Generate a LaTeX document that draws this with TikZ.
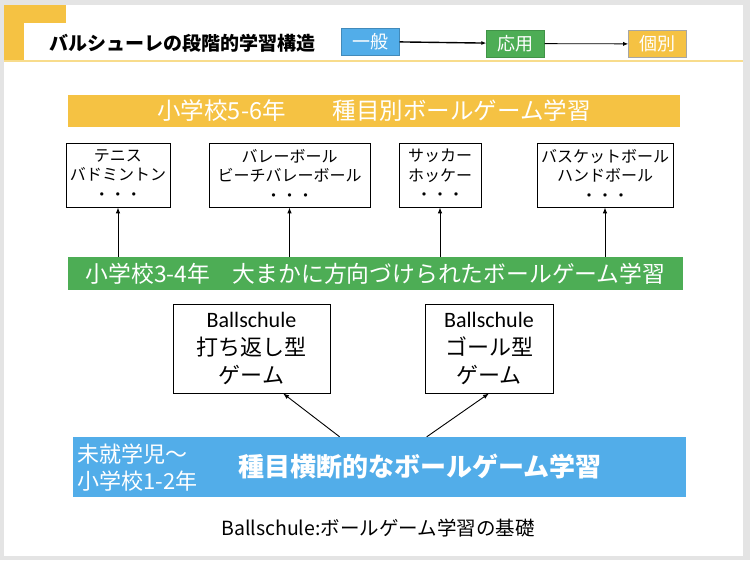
\documentclass[tikz,border=0pt]{standalone}
\usepackage{fontspec}
\setmainfont{Noto Sans CJK JP}
\newfontfamily\latinfont{Carlito}
\usetikzlibrary{arrows.meta, positioning, calc}

\definecolor{baryellow}{HTML}{F5C243}
\definecolor{bargreen}{HTML}{4DAD55}
\definecolor{barblue}{HTML}{52ADE9}
\definecolor{pagegray}{HTML}{E4E4E4}
\definecolor{rulecolor}{HTML}{F8DC8C}

\tikzset{
  levelbar/.style={rectangle, inner sep=0pt, text=white},
  tagbox/.style={rectangle, inner sep=0pt, minimum width=58pt, minimum height=27pt,
    text=white, font=\fontsize{18}{20}\selectfont},
  sportbox/.style={draw, line width=0.8pt, rectangle, inner sep=0pt, minimum height=64pt,
    align=center, font=\fontsize{16}{19.5}\selectfont},
  ballbox/.style={draw, line width=0.8pt, rectangle, inner sep=0pt, minimum height=89pt,
    align=center, font=\fontsize{22}{28}\selectfont},
  arr/.style={-{Latex[length=6pt,width=4.5pt]}, line width=0.9pt}
}

\begin{document}
\begin{tikzpicture}[x=1pt, y=-1pt]
    % Slide frame
    \fill[pagegray] (0,0) rectangle (750,560);
    \fill[white] (4,5) rectangle (743,556);
    \useasboundingbox (0,0) rectangle (750,560);
    \fill[baryellow] (4,5) rectangle (66,23);
    \fill[baryellow] (4,5) rectangle (24,60);
    \draw[rulecolor, line width=1.6pt] (4,61) -- (743,61);

    % Title and the three tags
    \node[anchor=west, font=\fontsize{19}{20}\selectfont\bfseries] (title) at (46,43) {バルシューレの段階的学習構造};
    \node[tagbox, fill=barblue, draw=barblue!80!black, line width=0.4pt] (general) at (370.5,41.5) {一般};
    \node[tagbox, fill=bargreen, draw=bargreen!85!black, line width=0.4pt] (applied) at (515.5,43.5) {応用};
    \node[tagbox, fill=baryellow, draw=gray!70, line width=0.6pt] (individual) at (657.5,44) {個別};
    \draw[-{Latex[length=5pt,width=4pt]}, line width=1.4pt] (general) -- (applied);
    \draw[-{Latex[length=5pt,width=4pt]}, line width=0.8pt] (applied) -- (individual);

    % Grades 5-6
    \node[levelbar, fill=baryellow, minimum width=612pt, minimum height=32pt,
          font=\fontsize{23.5}{26}\selectfont] (upper) at (374,111) {小学校5-6年　　種目別ボールゲーム学習};
    \foreach \n/\x/\w/\txt in {tennis/118/104/{テニス\\バドミントン\\・・・},
                              volley/289.5/161/{バレーボール\\ビーチバレーボール\\・・・},
                              soccer/440/82/{サッカー\\ホッケー\\・・・},
                              basket/605/136/{バスケットボール\\ハンドボール\\・・・}}
        \node[sportbox, minimum width=\w pt] (\n) at (\x,175) {\txt};

    % Grades 3-4
    \node[levelbar, fill=bargreen, minimum width=615pt, minimum height=33pt,
          font=\fontsize{22.8}{25}\selectfont] (middle) at (375.5,273.5) {小学校3-4年　大まかに方向づけられたボールゲーム学習};
    \foreach \n in {tennis, volley, soccer, basket}
        \draw[arr] (middle.north -| \n.south) -- (\n.south);

    % Ballschule game types
    \node[ballbox, minimum width=157pt] (hitback) at (251.5,348.5) {{\latinfont\fontsize{22}{24}\selectfont Ballschule}\\打ち返し型\\ゲーム};
    \node[ballbox, minimum width=128pt] (goal) at (489,348.5) {{\latinfont\fontsize{22}{24}\selectfont Ballschule}\\ゴール型\\ゲーム};

    % Preschool to grades 1-2
    \node[levelbar, fill=barblue, minimum width=613pt, minimum height=60pt] (base) at (379.5,467) {};
    \node[anchor=west, text=white, align=left, font=\fontsize{22}{27}\selectfont] (ages) at (74,468) {未就学児～\\小学校1-2年};
    \node[text=white, font=\fontsize{26}{28}\selectfont\bfseries] (crossing) at (420,467) {種目横断的なボールゲーム学習};
    \coordinate (fromhit) at ($(base.north west)!0.435!(base.north east)$);
    \coordinate (fromgoal) at ($(base.north west)!0.577!(base.north east)$);
    \draw[arr] (fromhit) -- ($(hitback.south west)!0.7!(hitback.south east)$);
    \draw[arr] (fromgoal) -- (goal.south);

    % Caption
    \node[font=\fontsize{19.5}{22}\selectfont] (caption) at (378,528) {Ballschule:ボールゲーム学習の基礎};
\end{tikzpicture}
\end{document}
